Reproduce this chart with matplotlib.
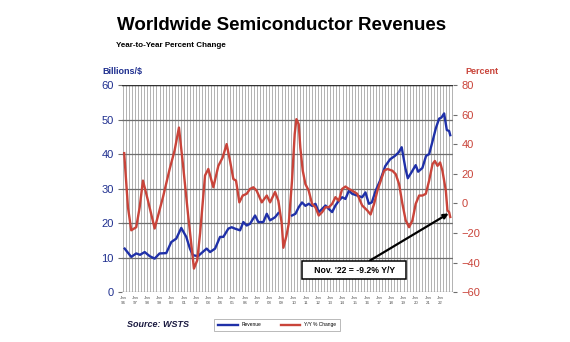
import numpy as np
import matplotlib
matplotlib.use("Agg")
import matplotlib.pyplot as plt

plt.rcParams['font.family'] = ['Liberation Sans', 'DejaVu Sans']

# monthly revenue, billions of dollars (gap where the source has none)
rev_years = [1996.14, 1996.68, 1997.09, 1997.4, 1997.78, 1998.2, 1998.6, 1999.0, 1999.55, 1999.96,
             2000.37, 2000.78, 2001.19, 2001.5, 2001.74, 2002.15, 2002.5, 2002.86, 2003.14, 2003.55,
             2003.96, 2004.23, 2004.64, 2004.91, 2005.18, 2005.6, 2005.87, 2006.14, 2006.42, 2006.83,
             2007.1, 2007.51, 2007.79, 2008.06, 2008.47, 2008.74, 2009.3, 2009.86, 2010.14, 2010.41,
             2010.68, 2010.96, 2011.23, 2011.5, 2011.78, 2012.05, 2012.33, 2012.6, 2012.88, 2013.15,
             2013.42, 2013.7, 2013.97, 2014.24, 2014.52, 2014.79, 2015.2, 2015.61, 2015.88, 2016.16,
             2016.4, 2016.73, 2017.1, 2017.5, 2017.9, 2018.3, 2018.6, 2018.85, 2019.0, 2019.15,
             2019.35, 2019.7, 2020.0, 2020.2, 2020.55, 2020.85, 2021.1, 2021.4, 2021.65, 2021.92,
             2022.11, 2022.33, 2022.55, 2022.74, 2022.83]
revenue = [12.6, 10.2, 11.2, 10.8, 11.6, 10.4, 9.7, 11.2, 11.3, 14.5,
           15.5, 18.6, 16.0, 12.5, 10.7, 10.4, 11.5, 12.6, 11.6, 12.6,
           16.0, 16.0, 18.4, 18.8, 18.4, 17.9, 20.3, 19.3, 19.8, 22.2,
           20.3, 20.3, 22.7, 20.8, 21.7, 22.9, np.nan, 22.2, 22.7, 24.6,
           26.0, 25.0, 25.6, 25.0, 25.6, 23.2, 24.1, 25.1, 24.1, 23.2,
           25.1, 26.5, 27.5, 27.0, 29.4, 28.5, 28.0, 27.5, 28.9, 25.6,
           26.0, 29.5, 32.5, 36.5, 38.5, 39.5, 40.5, 42.0, 39.0, 36.0,
           33.0, 35.0, 36.8, 34.9, 36.0, 39.5, 40.0, 44.0, 47.5, 50.3,
           50.6, 51.8, 47.0, 46.7, 45.5]

# year-to-year change, percent
yoy_years = [1996.1, 1996.41, 1996.68, 1997.09, 1997.37, 1997.64, 1998.05, 1998.6, 1999.28, 1999.83,
             2000.23, 2000.59, 2000.92, 2001.33, 2001.82, 2002.09, 2002.32, 2002.73, 2003.0, 2003.41,
             2003.82, 2004.17, 2004.5, 2004.78, 2005.05, 2005.27, 2005.54, 2005.82, 2006.14, 2006.42,
             2006.69, 2006.96, 2007.38, 2007.79, 2008.06, 2008.47, 2008.74, 2009.02, 2009.15, 2009.4,
             2009.59, 2009.86, 2010.08, 2010.22, 2010.41, 2010.54, 2010.74, 2010.96, 2011.23, 2011.5,
             2011.78, 2012.05, 2012.33, 2012.6, 2012.88, 2013.15, 2013.42, 2013.7, 2013.97, 2014.24,
             2014.52, 2014.79, 2015.2, 2015.61, 2016.02, 2016.3, 2016.59, 2016.86, 2017.14, 2017.41,
             2017.68, 2018.09, 2018.36, 2018.64, 2018.91, 2019.18, 2019.46, 2019.73, 2020.0, 2020.28,
             2020.55, 2020.83, 2021.1, 2021.38, 2021.57, 2021.79, 2022.0, 2022.19, 2022.47, 2022.6,
             2022.74, 2022.83]
yoy = [34.0, -2.6, -18.2, -16.1, -2.6, 15.4, 1.9, -17.0, 4.2, 23.3,
       35.7, 51.3, 26.3, -7.0, -44.1, -38.5, -20.6, 18.9, 23.3, 10.9,
       25.4, 31.0, 40.1, 28.7, 16.5, 15.4, 0.7, 5.3, 6.5, 9.8,
       10.9, 8.6, 0.7, 5.3, 0.7, 7.7, 1.8, -13.8, -30.0, -22.0,
       -13.8, 15.4, 46.9, 57.0, 53.6, 37.8, 22.1, 13.0, 8.6, -0.3,
       -2.6, -8.2, -5.9, -2.6, -2.6, -0.3, 4.2, 1.8, 9.8, 11.4,
       9.8, 8.6, 6.5, -1.4, -4.7, -7.5, -0.3, 8.6, 15.4, 22.1,
       23.3, 22.1, 19.8, 13.0, -0.3, -11.5, -16.1, -11.5, -0.3, 5.3,
       5.3, 6.5, 15.4, 26.6, 28.7, 25.4, 27.7, 22.1, 8.6, -4.7,
       -5.9, -9.2]

years = list(range(1996, 2023))
year_labels = ["Jan\n%02d" % (y % 100) for y in years]

navy = '#1f2f8f'
blue = '#1f30a8'
red = '#c9443a'

fig = plt.figure(figsize=(5.7, 3.42), dpi=100)
ax = fig.add_axes([0.214, 0.146, 0.581, 0.605])
ax2 = ax.twinx()

ax.plot(rev_years, revenue, color=blue, lw=1.7, label='Revenue', zorder=3)
ax2.plot(yoy_years, yoy, color=red, lw=1.7, label='Y/Y % Change', zorder=3)

ax.set_xlim(1995.92, 2023.07)
ax.set_ylim(0, 60)
ax2.set_ylim(-60, 80)
ax.set_yticks(range(0, 61, 10))
ax2.set_yticks(range(-60, 81, 20))

ax.set_xticks(years)
ax.set_xticklabels(year_labels, fontsize=3.2, color='#555555', linespacing=1.1)
ax.set_xticks(np.arange(1996, 2023.01, 0.25), minor=True)
ax.xaxis.grid(True, which='both', color='#b2b2b2', lw=0.7)
ax.yaxis.grid(True, color='#6e6e6e', lw=0.9)
ax.set_axisbelow(True)
ax.tick_params(axis='x', which='both', length=0, pad=3)
ax.tick_params(axis='y', length=3, color='#6e6e6e', labelsize=8, labelcolor=navy, pad=3)
ax2.tick_params(axis='y', length=3, color='#6e6e6e', labelsize=8, labelcolor=red, pad=3)
for a in (ax, ax2):
    for s in a.spines.values():
        s.set_visible(False)
ax.axhline(60, color='#333333', lw=1.0, zorder=1)

fig.text(0.205, 0.924, 'Worldwide Semiconductor Revenues', fontsize=13.5,
         fontweight='bold', va='center')
fig.text(0.204, 0.866, 'Year-to-Year Percent Change', fontsize=5.8,
         fontweight='bold', va='center')
fig.text(0.179, 0.79, 'Billions/$', fontsize=6.5, fontweight='bold',
         color=navy, va='center')
fig.text(0.875, 0.79, 'Percent', fontsize=6.5, fontweight='bold',
         color=red, va='center', ha='right')
fig.text(0.222, 0.05, 'Source: WSTS', fontsize=6.5, fontweight='bold',
         style='italic', color='#1a1a40', va='center')

ax2.annotate("   Nov. '22 = -9.2% Y/Y   ", xy=(2022.7, -6.8), xytext=(2014.95, -45.1),
             fontsize=6.2, fontweight='bold', ha='center', va='center',
             bbox=dict(boxstyle='square,pad=0.5', fc='white', ec='black', lw=1.1),
             arrowprops=dict(arrowstyle='-|>', color='black', lw=1.6,
                             mutation_scale=7, shrinkA=0, shrinkB=0),
             zorder=5)

h1, l1 = ax.get_legend_handles_labels()
h2, l2 = ax2.get_legend_handles_labels()
leg = fig.legend(h1 + h2, l1 + l2, loc='center', bbox_to_anchor=(0.486, 0.05),
                 ncol=2, fontsize=3.5, frameon=True, fancybox=False,
                 handlelength=4, columnspacing=4, borderpad=0.8)
leg.get_frame().set_edgecolor('#9a9a9a')
leg.get_frame().set_linewidth(0.6)

fig.savefig('out.png', dpi=100, facecolor='white')
